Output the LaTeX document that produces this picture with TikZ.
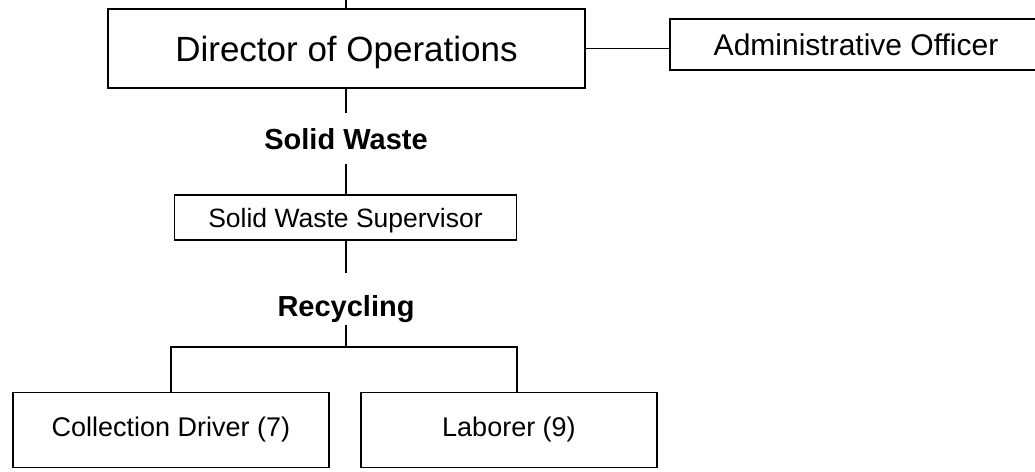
\documentclass[tikz,border=0pt]{standalone}
\usepackage{fontspec}
\setmainfont{Liberation Sans}
\begin{document}
\begin{tikzpicture}[x=1pt,y=-1pt,
  box/.style={draw=black,line width=1.7pt,rectangle,inner sep=0pt,text depth=0pt,align=center},
  conn/.style={draw=black,line width=1.1pt},
  lbl/.style={inner xsep=0pt,font=\bfseries\fontsize{29}{34}\selectfont,text depth=0pt}]
\clip (0,0) rectangle (1035,471);
\fill[white] (0,0) rectangle (1035,471);
% boxes
\node[box,minimum width=477pt,minimum height=79pt,text height=25pt,font=\fontsize{35}{40}\selectfont] (dir) at (346.5,48.5) {Director of Operations};
\node[box,minimum width=372pt,minimum height=51pt,text height=21.5pt,font=\fontsize{30}{34}\selectfont] (adm) at (856,44.5) {Administrative Officer};
\node[box,minimum width=342pt,minimum height=45pt,text height=19pt,font=\fontsize{26.5}{30}\selectfont] (sup) at (345.5,217.5) {Solid Waste Supervisor};
\node[box,minimum width=316pt,minimum height=75pt,text height=19.3pt,text depth=6pt,font=\fontsize{27}{32}\selectfont] (col) at (171,430) {Collection Driver (7)};
\node[box,minimum width=296pt,minimum height=75pt,text height=19.3pt,text depth=6pt,font=\fontsize{27}{32}\selectfont] (lab) at (509,430) {Laborer (9)};
% labels
\node[lbl,text height=21pt,inner ysep=14.5pt] (swl) at (346,138.5) {Solid Waste};
\node[lbl,text height=34pt,inner ysep=9pt] (recl) at (346,299) {Recycling};
\coordinate (top) at (346,0);
\coordinate (fork) at (346,347);
\coordinate (labdrop) at (517,347);
% connectors
\draw[conn] (top) -- (dir.north -| top);
\draw[conn] (dir.east) -- (dir.east -| adm.west);
\draw[conn] (dir.south -| swl) -- (swl.north);
\draw[conn] (swl.south) -- (swl.south |- sup.north);
\draw[conn] (sup.south -| recl) -- (recl.north);
\draw[conn] (recl.south) -- (fork);
\draw[conn] (col.north) |- (fork) -- (labdrop) -- (labdrop |- lab.north);
\end{tikzpicture}
\end{document}
